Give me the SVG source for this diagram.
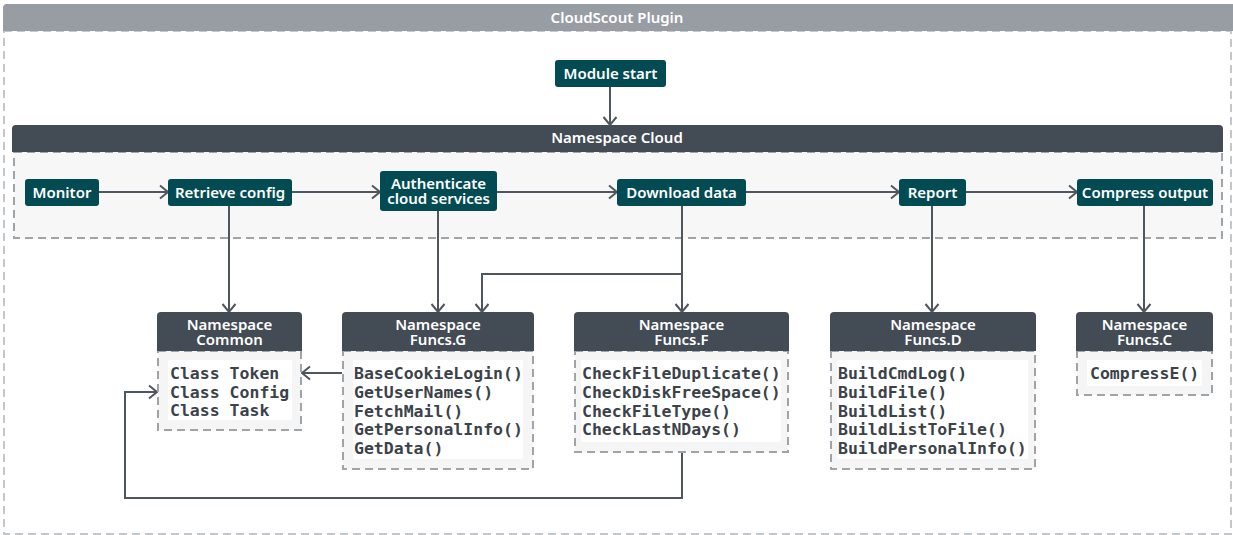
<svg xmlns="http://www.w3.org/2000/svg" width="1233" height="535" viewBox="0 0 1233 535">
<style>
.title{font-family:"Noto Sans","Open Sans",sans-serif;font-size:15px;font-weight:600;fill:#ffffff;text-anchor:middle}
.ntext{font-family:"Noto Sans","Open Sans",sans-serif;font-size:15px;font-weight:600;fill:#ffffff;text-anchor:middle}
.node{fill:#034b52}
.hdr{fill:#434b54}
.body{fill:#f5f5f5;stroke:#9fa4a9;stroke-width:2;stroke-dasharray:8 5}
.panel{fill:#ffffff}
.mono{font-family:"DejaVu Sans Mono","Liberation Mono",monospace;font-size:16.5px;font-weight:bold;fill:#3b4249}
.conn{fill:none;stroke:#4f565d;stroke-width:2;marker-end:url(#arr)}
</style>
<defs>
<marker id="arr" viewBox="-10 -8 12 16" markerWidth="12" markerHeight="16" refX="0" refY="0" orient="auto" markerUnits="userSpaceOnUse">
<path d="M-8,-6.5 L0,0 L-8,6.5" fill="none" stroke="#4f565d" stroke-width="2"/>
</marker>
</defs>
<rect width="1233" height="535" fill="#ffffff"/>
<g id="plugin">
<rect x="4" y="31" width="1227" height="503" fill="#ffffff" stroke="#c4c7ca" stroke-width="2" stroke-dasharray="8 5"/>
<path d="M3,31 V8 a4,4 0 0 1 4,-4 H1233 V31 Z" fill="#979da3"/>
<text class="title" x="617" y="23">CloudScout Plugin</text>
</g>
<g id="cloud">
<rect x="14" y="152" width="1208" height="86" fill="#f7f7f7" stroke="#9fa4a9" stroke-width="2" stroke-dasharray="8 5"/>
<path d="M12,152 V129 a4,4 0 0 1 4,-4 H1219 a4,4 0 0 1 4,4 V152 Z" class="hdr"/>
<text class="title" x="617" y="143">Namespace Cloud</text>
</g>
<g id="connectors">
<path class="conn" d="M610,87 V125"/>
<path class="conn" d="M99,192 H168"/>
<path class="conn" d="M292,192 H380"/>
<path class="conn" d="M497,192 H617"/>
<path class="conn" d="M746,192 H899"/>
<path class="conn" d="M966,192 H1077"/>
<path class="conn" d="M229,206 V312"/>
<path class="conn" d="M438,211 V312"/>
<path class="conn" d="M682,206 V312"/>
<path class="conn" d="M682,274 H482 V312"/>
<path class="conn" d="M932,206 V312"/>
<path class="conn" d="M1144,206 V312"/>
<path class="conn" d="M342,373 H302"/>
<path class="conn" d="M682,453 V498 H125 V392 H157"/>
</g>
<g id="module-start">
<rect class="node" x="555" y="60" width="111" height="27" rx="3"/>
<text class="ntext" x="610.5" y="79">Module start</text>
</g>
<g id="monitor">
<rect class="node" x="25" y="179" width="74" height="27" rx="3"/>
<text class="ntext" x="62" y="198">Monitor</text>
</g>
<g id="retrieve-config">
<rect class="node" x="168" y="179" width="124" height="27" rx="3"/>
<text class="ntext" x="230" y="198">Retrieve config</text>
</g>
<g id="authenticate">
<rect class="node" x="380" y="171" width="117" height="40" rx="3"/>
<text class="ntext" x="438.5" y="189">Authenticate</text>
<text class="ntext" x="438.5" y="204">cloud services</text>
</g>
<g id="download-data">
<rect class="node" x="617" y="179" width="129" height="27" rx="3"/>
<text class="ntext" x="681.5" y="198">Download data</text>
</g>
<g id="report">
<rect class="node" x="899" y="179" width="67" height="27" rx="3"/>
<text class="ntext" x="932.5" y="198">Report</text>
</g>
<g id="compress-output">
<rect class="node" x="1077" y="179" width="136" height="27" rx="3"/>
<text class="ntext" x="1145" y="198">Compress output</text>
</g>
<g id="ns-common">
<rect class="body" x="158" y="351" width="143" height="79"/>
<path class="hdr" d="M157,351 V316 a4,4 0 0 1 4,-4 H298 a4,4 0 0 1 4,4 V351 Z"/>
<text class="ntext" x="229.5" y="330">Namespace</text>
<text class="ntext" x="229.5" y="345">Common</text>
<rect class="panel" x="168" y="360" width="124" height="60" rx="2"/>
<text class="mono" x="170" y="379">Class Token</text>
<text class="mono" x="170" y="398">Class Config</text>
<text class="mono" x="170" y="416">Class Task</text>
</g>
<g id="ns-funcs-g">
<rect class="body" x="343" y="351" width="190" height="118"/>
<path class="hdr" d="M342,351 V316 a4,4 0 0 1 4,-4 H530 a4,4 0 0 1 4,4 V351 Z"/>
<text class="ntext" x="438" y="330">Namespace</text>
<text class="ntext" x="438" y="345">Funcs.G</text>
<rect class="panel" x="353" y="360" width="170" height="99" rx="2"/>
<text class="mono" x="354" y="379">BaseCookieLogin()</text>
<text class="mono" x="354" y="398">GetUserNames()</text>
<text class="mono" x="354" y="417">FetchMail()</text>
<text class="mono" x="354" y="435">GetPersonalInfo()</text>
<text class="mono" x="354" y="454">GetData()</text>
</g>
<g id="ns-funcs-f">
<rect class="body" x="575" y="351" width="213" height="101"/>
<path class="hdr" d="M574,351 V316 a4,4 0 0 1 4,-4 H785 a4,4 0 0 1 4,4 V351 Z"/>
<text class="ntext" x="681.5" y="330">Namespace</text>
<text class="ntext" x="681.5" y="345">Funcs.F</text>
<rect class="panel" x="581" y="360" width="200" height="82" rx="2"/>
<text class="mono" x="582" y="379">CheckFileDuplicate()</text>
<text class="mono" x="582" y="398">CheckDiskFreeSpace()</text>
<text class="mono" x="582" y="417">CheckFileType()</text>
<text class="mono" x="582" y="435">CheckLastNDays()</text>
</g>
<g id="ns-funcs-d">
<rect class="body" x="831" y="351" width="204" height="118"/>
<path class="hdr" d="M830,351 V316 a4,4 0 0 1 4,-4 H1032 a4,4 0 0 1 4,4 V351 Z"/>
<text class="ntext" x="933" y="330">Namespace</text>
<text class="ntext" x="933" y="345">Funcs.D</text>
<rect class="panel" x="837" y="360" width="191" height="99" rx="2"/>
<text class="mono" x="838" y="379">BuildCmdLog()</text>
<text class="mono" x="838" y="398">BuildFile()</text>
<text class="mono" x="838" y="417">BuildList()</text>
<text class="mono" x="838" y="435">BuildListToFile()</text>
<text class="mono" x="838" y="454">BuildPersonalInfo()</text>
</g>
<g id="ns-funcs-c">
<rect class="body" x="1077" y="351" width="135" height="44"/>
<path class="hdr" d="M1076,351 V316 a4,4 0 0 1 4,-4 H1209 a4,4 0 0 1 4,4 V351 Z"/>
<text class="ntext" x="1144.5" y="330">Namespace</text>
<text class="ntext" x="1144.5" y="345">Funcs.C</text>
<rect class="panel" x="1087" y="360" width="115" height="26" rx="2"/>
<text class="mono" x="1090" y="379">CompressE()</text>
</g>
</svg>
